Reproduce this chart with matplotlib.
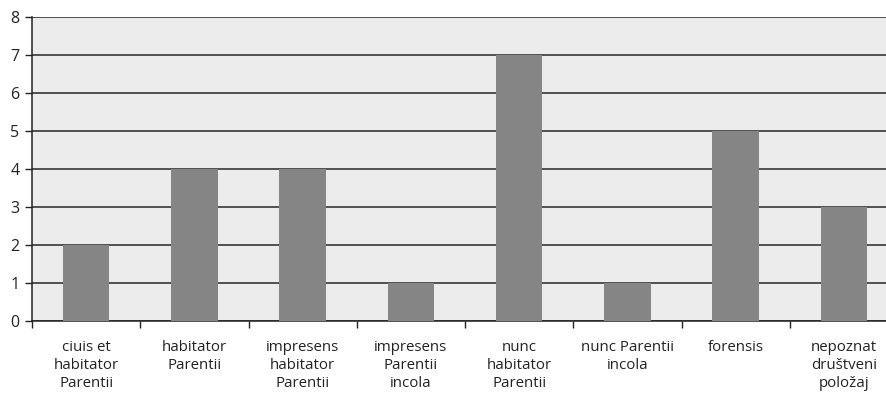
import matplotlib.pyplot as plt
import numpy as np

categories = ["ciuis et\nhabitator\nParentii", "habitator\nParentii",
              "impresens\nhabitator\nParentii", "impresens\nParentii\nincola",
              "nunc\nhabitator\nParentii", "nunc Parentii\nincola",
              "forensis", "nepoznat\ndruštveni\npoložaj"]
counts = [2, 4, 4, 1, 7, 1, 5, 3]
y_ticks = [0, 1, 2, 3, 4, 5, 6, 7, 8]

plt.rcParams['font.family'] = ['Open Sans', 'DejaVu Sans']

fig = plt.figure(figsize=(8.87, 4.03), dpi=100)
# plot area runs a little past the right edge of the figure
ax = fig.add_axes([32 / 887, 82 / 403, 866 / 887, 304 / 403])
ax.set_facecolor('#ececec')

x = np.arange(len(categories))
ax.bar(x, counts, width=0.43, color='#858585', zorder=3)

ax.set_ylim(0, 8)
ax.set_xlim(-0.5, len(categories) - 0.5)
ax.set_yticks(y_ticks)
ax.yaxis.grid(True, color='#262626', linewidth=1.1, zorder=1)
ax.set_axisbelow(True)

# category ticks sit between bars, labels centred under each bar
ax.set_xticks(np.arange(len(categories) + 1) - 0.5)
ax.set_xticklabels([])
ax.set_xticks(x, minor=True)
ax.set_xticklabels(categories, minor=True, fontsize=10.8, color='#222222',
                   linespacing=1.25, va='top')
ax.tick_params(axis='x', which='minor', length=0, pad=14)
ax.tick_params(axis='x', which='major', length=5, width=1, color='#222222')
ax.tick_params(axis='y', length=5, width=1, color='#222222', labelsize=11.5,
               labelcolor='#222222', pad=4)

for side in ['top', 'right']:
    ax.spines[side].set_visible(False)
for side in ['left', 'bottom']:
    ax.spines[side].set_color('#222222')
    ax.spines[side].set_linewidth(1.1)

fig.savefig('out.png', dpi=100)
